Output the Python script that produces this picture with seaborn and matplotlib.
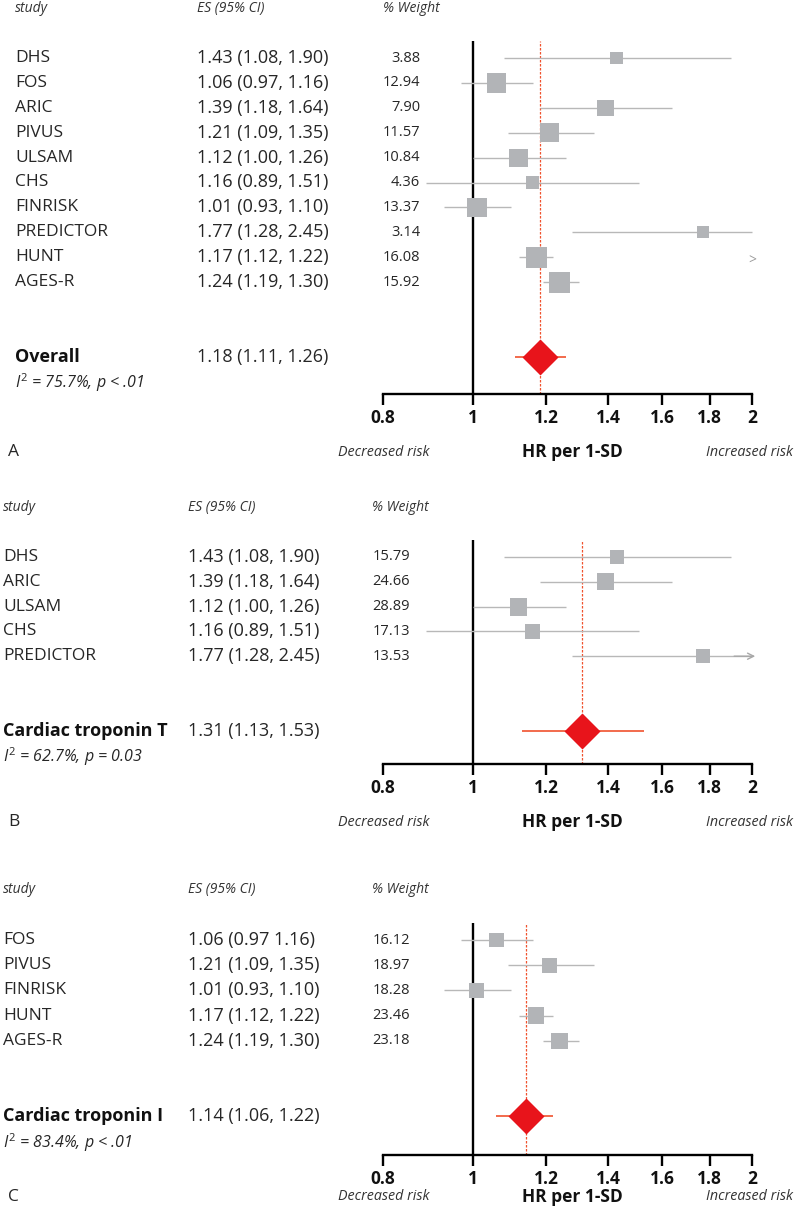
import matplotlib
matplotlib.use("Agg")
import numpy as np
import seaborn as sns
import matplotlib.pyplot as plt
import matplotlib.transforms as mtransforms

# ---- data ----
a_studies = ["DHS", "FOS", "ARIC", "PIVUS", "ULSAM", "CHS", "FINRISK", "PREDICTOR", "HUNT", "AGES-R"]
a_es = [1.43, 1.06, 1.39, 1.21, 1.12, 1.16, 1.01, 1.77, 1.17, 1.24]
a_lo = [1.08, 0.97, 1.18, 1.09, 1.00, 0.89, 0.93, 1.28, 1.12, 1.19]
a_hi = [1.90, 1.16, 1.64, 1.35, 1.26, 1.51, 1.10, 2.45, 1.22, 1.30]
a_weight = [3.88, 12.94, 7.90, 11.57, 10.84, 4.36, 13.37, 3.14, 16.08, 15.92]
a_es_text = ["1.43 (1.08, 1.90)", "1.06 (0.97, 1.16)", "1.39 (1.18, 1.64)", "1.21 (1.09, 1.35)",
             "1.12 (1.00, 1.26)", "1.16 (0.89, 1.51)", "1.01 (0.93, 1.10)", "1.77 (1.28, 2.45)",
             "1.17 (1.12, 1.22)", "1.24 (1.19, 1.30)"]
a_pooled = [1.18, 1.11, 1.26]

b_studies = ["DHS", "ARIC", "ULSAM", "CHS", "PREDICTOR"]
b_es = [1.43, 1.39, 1.12, 1.16, 1.77]
b_lo = [1.08, 1.18, 1.00, 0.89, 1.28]
b_hi = [1.90, 1.64, 1.26, 1.51, 2.45]
b_weight = [15.79, 24.66, 28.89, 17.13, 13.53]
b_es_text = ["1.43 (1.08, 1.90)", "1.39 (1.18, 1.64)", "1.12 (1.00, 1.26)",
             "1.16 (0.89, 1.51)", "1.77 (1.28, 2.45)"]
b_pooled = [1.31, 1.13, 1.53]

c_studies = ["FOS", "PIVUS", "FINRISK", "HUNT", "AGES-R"]
c_es = [1.06, 1.21, 1.01, 1.17, 1.24]
c_lo = [0.97, 1.09, 0.93, 1.12, 1.19]
c_hi = [1.16, 1.35, 1.10, 1.22, 1.30]
c_weight = [16.12, 18.97, 18.28, 23.46, 23.18]
c_es_text = ["1.06 (0.97 1.16)", "1.21 (1.09, 1.35)", "1.01 (0.93, 1.10)",
             "1.17 (1.12, 1.22)", "1.24 (1.19, 1.30)"]
c_pooled = [1.14, 1.06, 1.22]

xticks = [0.8, 1, 1.2, 1.4, 1.6, 1.8, 2]
xtick_labels = ["0.8", "1", "1.2", "1.4", "1.6", "1.8", "2"]

sns.set_theme(style="white")
plt.rcParams["font.family"] = ["Open Sans", "DejaVu Sans"]
plt.rcParams["mathtext.fontset"] = "custom"
plt.rcParams["mathtext.rm"] = "Open Sans"
plt.rcParams["mathtext.it"] = "Open Sans:italic"

W, H = 800, 1208
fig = plt.figure(figsize=(W / 100, H / 100), dpi=100)

SQ = "#b2b4b7"
CI = "#b8b8b8"
RED = "#e8141b"
REDLINE = "#f0522e"
TXT = "#262626"

panels = [
    dict(letter="A", studies=a_studies, es=a_es, lo=a_lo, hi=a_hi, w=a_weight, txt=a_es_text,
         pooled=a_pooled, label="Overall", het=r"$I^2$ = 75.7%, p < .01",
         row0=58, step=24.9, axis=394, bottom=452, size=(5.0, 4.0), stray="HUNT", arrow=None,
         cols=(15, 197, 383, 420)),
    dict(letter="B", studies=b_studies, es=b_es, lo=b_lo, hi=b_hi, w=b_weight, txt=b_es_text,
         pooled=b_pooled, label="Cardiac troponin T", het=r"$I^2$ = 62.7%, p = 0.03",
         row0=557, step=24.8, axis=764, bottom=822, size=(4.0, 2.6), stray=None, arrow="PREDICTOR",
         cols=(3, 188, 372, 410)),
    dict(letter="C", studies=c_studies, es=c_es, lo=c_lo, hi=c_hi, w=c_weight, txt=c_es_text,
         pooled=c_pooled, label="Cardiac troponin I", het=r"$I^2$ = 83.4%, p < .01",
         row0=940, step=25.2, axis=1155, bottom=1197, size=(4.0, 2.6), stray=None, arrow=None,
         cols=(3, 188, 372, 410)),
]

X0, X1 = 383, 752

for p in panels:
    n = len(p["studies"])
    top_px = p["row0"] - 17
    ax = fig.add_axes([X0 / W, 1 - p["axis"] / H, (X1 - X0) / W, (p["axis"] - top_px) / H])
    ax.set_xscale("log")
    ax.set_xlim(0.8, 2.0)
    ax.set_ylim((p["axis"] - p["row0"]) / p["step"], (top_px - p["row0"]) / p["step"])
    ax.patch.set_alpha(0)

    rows = np.arange(n)
    es = np.array(p["es"])
    lo = np.clip(p["lo"], 0.8, 2.0)
    hi = np.clip(p["hi"], 0.8, 2.0)

    ax.axvline(1, color="black", lw=1.7, zorder=1)
    ax.axvline(p["pooled"][0], color=REDLINE, lw=0.9, ls=(0, (2, 1.2)), zorder=1)

    ax.hlines(rows, lo, hi, color=CI, lw=1.0, zorder=2, clip_on=False)
    # square side grows with the study weight
    side_pt = (p["size"][0] + p["size"][1] * np.sqrt(p["w"])) * 0.72
    sns.scatterplot(x=es, y=rows, s=side_pt ** 2, marker="s", color=SQ, edgecolor="none",
                    linewidth=0, legend=False, ax=ax, zorder=3, clip_on=False)

    if p["arrow"]:
        r = p["studies"].index(p["arrow"])
        ax.annotate("", xy=(2.03, r), xytext=(1.9, r), annotation_clip=False,
                    arrowprops=dict(arrowstyle="->", color="#a8a8a8", lw=1.0, mutation_scale=11))
    if p["stray"]:
        r = p["studies"].index(p["stray"])
        ax.text(2.0, r + 0.15, ">", ha="center", va="center", color="#9a9a9a", fontsize=10)

    # pooled estimate
    srow = n + 2
    ax.hlines(srow, p["pooled"][1], p["pooled"][2], color=REDLINE, lw=1.2, zorder=2)
    ax.plot([p["pooled"][0]], [srow], marker="D", ms=18, color=RED, mec="none", zorder=4)

    # axes styling
    for s in ["left", "right", "top"]:
        ax.spines[s].set_visible(False)
    ax.spines["bottom"].set_linewidth(1.7)
    ax.spines["bottom"].set_color("black")
    ax.set_xticks(xticks)
    ax.set_xticklabels(xtick_labels, fontsize=12.5, fontweight="bold", color="#111111")
    ax.xaxis.set_minor_locator(matplotlib.ticker.NullLocator())
    ax.tick_params(axis="x", direction="out", length=8, width=1.7, color="black", pad=3, bottom=True)
    ax.set_yticks([])

    # left-hand text columns
    xn, xe, xwh, xw = (c / W for c in p["cols"])
    tr = mtransforms.blended_transform_factory(fig.transFigure, ax.transData)
    hdr = dict(fontsize=10, style="italic", color="#333333", va="center", transform=tr)
    ax.text(xn, -2, "study", **hdr)
    ax.text(xe, -2, "ES (95% CI)", **hdr)
    ax.text(xwh, -2, "% Weight", **hdr)
    for i in range(n):
        ax.text(xn, i, p["studies"][i], fontsize=12.5, color=TXT, va="center", transform=tr)
        ax.text(xe, i, p["txt"][i], fontsize=13, color=TXT, va="center", transform=tr)
        ax.text(xw, i, f"{p['w'][i]:.2f}", fontsize=10.5, color=TXT, va="center", ha="right",
                transform=tr)
    ax.text(xn, srow, p["label"], fontsize=13, fontweight="bold", color="#111111",
            va="center", transform=tr)
    ax.text(xe, srow, f"{p['pooled'][0]:.2f} ({p['pooled'][1]:.2f}, {p['pooled'][2]:.2f})",
            fontsize=13, color=TXT, va="center", transform=tr)
    ax.text(xn, srow + 1.05, p["het"], fontsize=11.5, style="italic", color=TXT,
            va="center", transform=tr)

    # bottom captions
    yb = 1 - p["bottom"] / H
    fig.text(8 / W, yb, p["letter"], fontsize=12.5, color=TXT, va="center")
    fig.text(384 / W, yb, "Decreased risk", fontsize=10.3, style="italic", color="#333333",
             ha="center", va="center")
    fig.text(572 / W, yb, "HR per 1-SD", fontsize=12.5, fontweight="bold", color="#111111",
             ha="center", va="center")
    fig.text(793 / W, yb, "Increased risk", fontsize=10.3, style="italic", color="#333333",
             ha="right", va="center")

fig.savefig("out.png", dpi=100, facecolor="white")
